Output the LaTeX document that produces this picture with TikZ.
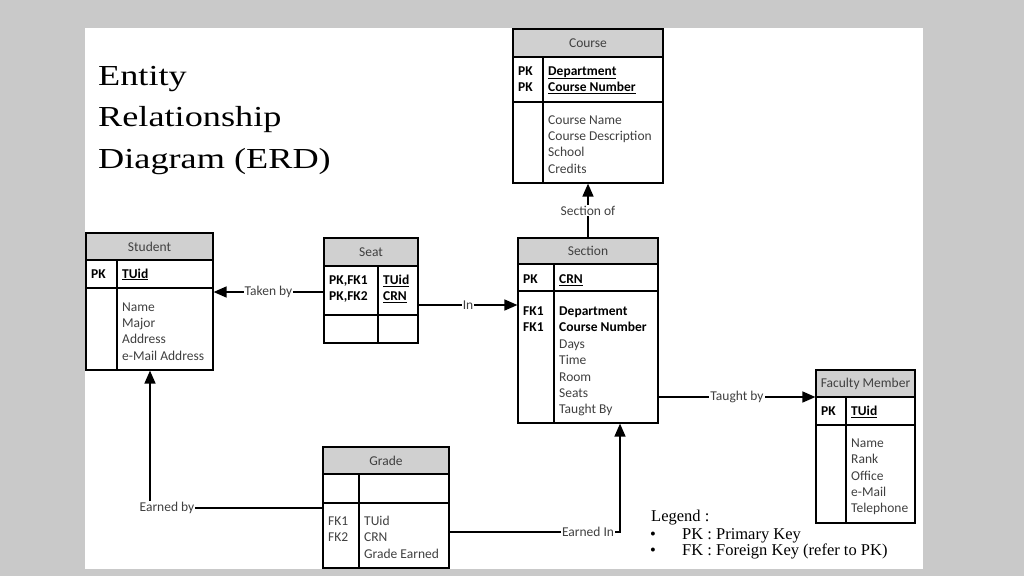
\documentclass[tikz,border=0pt]{standalone}
\usepackage{fontspec}
\setmainfont{Liberation Serif}
\newfontfamily\calfont{Carlito}
\usetikzlibrary{arrows.meta,fit}
\definecolor{bgc}{RGB}{201,201,201}
\definecolor{hdrc}{RGB}{208,208,208}
\definecolor{txtc}{RGB}{64,64,64}
\newcommand\ukey[1]{\underline{#1}}
\newcommand\entity[9]{%
  \fill[hdrc] (#2,#3) rectangle (#4,#6);
  \draw[innerline] (#2,#6) -- (#4,#6) (#2,#7) -- (#4,#7) (#8,#6) -- (#8,#5);
  \node[ebox, fit={(#2,#3)(#4,#5)}] (#1) {};
  \node[etitle] (#1-title) at ({(#2+#4)/2},{(#3+#6)/2}) {#9};
}
\newcommand\rows[5]{%
  \foreach \t [count=\i] in {#5} {\node[#4, anchor=base west] (#1-\i) at (#2,{#3+(\i-1)*16.35}) {\t};}%
}
\begin{document}
\begin{tikzpicture}[x=1pt,y=-1pt,
  ebox/.style={draw, line width=1.2pt, inner sep=0pt},
  innerline/.style={line width=1.1pt},
  etitle/.style={font=\calfont\fontsize{13.5}{16}\selectfont, text=txtc, inner sep=0pt},
  keytxt/.style={font=\calfont\bfseries\fontsize{13.5}{16}\selectfont, text=black, inner sep=0pt},
  attrtxt/.style={font=\calfont\bfseries\fontsize{13.5}{16}\selectfont, text=black, inner sep=0pt},
  bodytxt/.style={font=\calfont\fontsize{13.5}{16}\selectfont, text=txtc, inner sep=0pt},
  conn/.style={line width=1.5pt, -{Triangle[length=13pt,width=11pt]}},
  plainconn/.style={line width=1.5pt},
  lbl/.style={font=\calfont\fontsize{13.5}{16}\selectfont, text=txtc, fill=white, inner sep=1pt},
  ttl/.style={font=\fontsize{29}{34}\selectfont, inner sep=0pt, anchor=base west},
  leg/.style={font=\fontsize{16.5}{18}\selectfont, inner sep=0pt, anchor=base west}
]
\fill[bgc] (0,0) rectangle (1024,576);
\useasboundingbox (0,0) rectangle (1024,576);
\fill[white] (85,28) rectangle (923,569);

% Title
\node[ttl] (title-1) at (98,85) {\scalebox{1.25}[1]{Entity}};
\node[ttl] (title-2) at (98,126.5) {\scalebox{1.25}[1]{Relationship}};
\node[ttl] (title-3) at (98,168) {\scalebox{1.25}[1]{Diagram (ERD)}};

% Course
\entity{course}{513}{29}{663}{183}{57}{102}{543}{Course}
\rows{course-k}{518}{75}{keytxt}{PK,PK}
\rows{course-a}{548}{75}{attrtxt}{\ukey{Department},\ukey{Course Number}}
\rows{course-b}{548}{124}{bodytxt}{Course Name,Course Description,School,Credits}

% Student
\entity{student}{86}{233}{213}{370}{260}{288}{117}{Student}
\rows{student-k}{91}{278}{keytxt}{PK}
\rows{student-a}{122}{278}{attrtxt}{\ukey{TUid}}
\rows{student-b}{122}{311}{bodytxt}{Name,Major,Address,e-Mail Address}

% Seat
\entity{seat}{324}{238}{418}{343}{266}{315}{378}{Seat}
\rows{seat-k}{329}{284.5}{keytxt}{{PK,FK1},{PK,FK2}}
\rows{seat-a}{383}{284.5}{attrtxt}{\ukey{TUid},\ukey{CRN}}

% Section
\entity{section}{518}{238}{658}{423}{264}{291}{554}{Section}
\rows{section-k}{523}{283.5}{keytxt}{PK}
\rows{section-a}{559}{283.5}{attrtxt}{\ukey{CRN}}
\rows{section-f}{523}{315.5}{keytxt}{FK1,FK1}
\rows{section-c}{559}{315.5}{attrtxt}{Department,Course Number}
\rows{section-b}{559}{348.5}{bodytxt}{Days,Time,Room,Seats,Taught By}

% Faculty Member
\entity{faculty}{816}{370}{915}{523}{397}{425}{846}{Faculty Member}
\rows{faculty-k}{821}{415.5}{keytxt}{PK}
\rows{faculty-a}{851}{415.5}{attrtxt}{\ukey{TUid}}
\rows{faculty-b}{851}{447.5}{bodytxt}{Name,Rank,Office,e-Mail,Telephone}

% Grade
\entity{grade}{323}{447}{449}{568}{474}{503}{359}{Grade}
\rows{grade-k}{328}{525.5}{bodytxt}{FK1,FK2}
\rows{grade-b}{364}{525.5}{bodytxt}{TUid,CRN,Grade Earned}

% Connectors
\draw[conn] (seat.west |- 0,292) -- node[lbl] (l-taken) {Taken by} (student.east |- 0,292);
\draw[conn] (seat.east |- 0,305) -- node[lbl] (l-in) {In} (section.west |- 0,305);
\draw[conn] (section.north) -- node[lbl] (l-secof) {Section of} (course.south);
\draw[conn] (section.east |- 0,397) -- node[lbl] (l-taught) {Taught by} (faculty.west |- 0,397);
\draw[conn] (grade.east |- 0,532) -| (section.south -| 620,0);
\node[lbl] (l-earnin) at (588,532) {Earned In};
\draw[conn] (grade.west |- 0,508) -| (student.south -| 150,0);
\node[lbl] (l-earnby) at (167,508) {Earned by};

% Legend
\node[leg] (leg-0) at (651,521) {Legend :};
\node[leg] (leg-b1) at (650,539) {•};
\node[leg] (leg-1) at (682,539) {PK : Primary Key};
\node[leg] (leg-b2) at (650,555) {•};
\node[leg] (leg-2) at (682,555) {FK : Foreign Key (refer to PK)};
\end{tikzpicture}
\end{document}
